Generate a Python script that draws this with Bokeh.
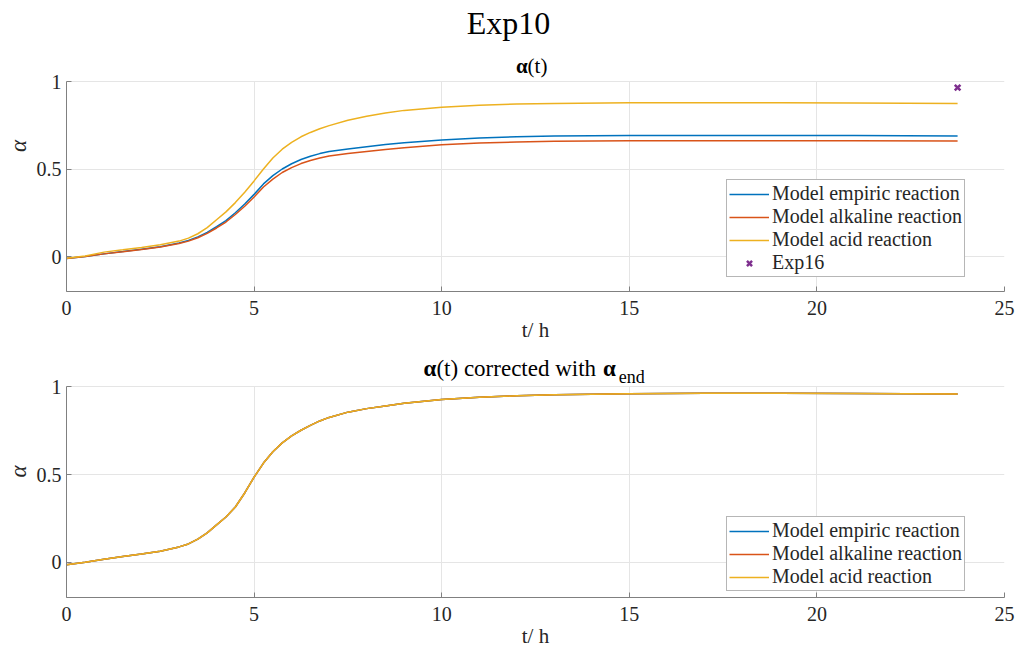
from bokeh.plotting import figure
from bokeh.layouts import column
from bokeh.models import FixedTicker, Range1d, Legend, LegendItem, Label
from bokeh.embed import file_html
from bokeh.resources import INLINE

# Reaction degree alpha over time (hours)
t_h = [0, 0.5, 1, 1.5, 2, 2.5, 3, 3.25, 3.5, 3.75, 4, 4.25, 4.5, 4.75, 5, 5.25,
       5.5, 5.75, 6, 6.25, 6.5, 6.75, 7, 7.5, 8, 8.5, 9, 10, 11, 12, 13, 15,
       17, 19, 21, 23.75]

alpha_empiric = [-0.012, 0.000, 0.015, 0.028, 0.042, 0.056, 0.077, 0.092, 0.112,
                 0.138, 0.170, 0.205, 0.250, 0.300, 0.355, 0.415, 0.462, 0.500,
                 0.530, 0.554, 0.573, 0.588, 0.600, 0.614, 0.627, 0.640, 0.650,
                 0.666, 0.677, 0.684, 0.688, 0.691, 0.692, 0.692, 0.691, 0.689]
alpha_alkaline = [-0.012, 0.000, 0.015, 0.027, 0.040, 0.054, 0.074, 0.088, 0.107,
                  0.132, 0.163, 0.197, 0.240, 0.287, 0.340, 0.397, 0.442, 0.480,
                  0.508, 0.531, 0.549, 0.563, 0.574, 0.588, 0.600, 0.612, 0.622,
                  0.638, 0.648, 0.654, 0.658, 0.661, 0.662, 0.662, 0.661, 0.660]
alpha_acid = [-0.010, 0.003, 0.025, 0.038, 0.052, 0.067, 0.088, 0.105, 0.130,
              0.165, 0.210, 0.255, 0.308, 0.367, 0.432, 0.500, 0.563, 0.613,
              0.652, 0.684, 0.709, 0.730, 0.748, 0.779, 0.802, 0.820, 0.835,
              0.853, 0.864, 0.871, 0.875, 0.878, 0.879, 0.879, 0.877, 0.874]

# Same curves normalised by their end value
corr_empiric = [-0.013, 0.000, 0.018, 0.033, 0.047, 0.063, 0.088, 0.105, 0.132,
                0.168, 0.213, 0.258, 0.315, 0.395, 0.485, 0.565, 0.630, 0.680,
                0.720, 0.752, 0.780, 0.805, 0.825, 0.855, 0.875, 0.890, 0.905,
                0.927, 0.940, 0.948, 0.954, 0.960, 0.962, 0.962, 0.961, 0.958]
corr_alkaline = list(corr_empiric)
corr_acid = list(corr_empiric)

# Measured end value
exp16_t = [23.75]
exp16_alpha = [0.965]

x_ticks = [0, 5, 10, 15, 20, 25]
y_ticks = [0, 0.5, 1]
y_tick_labels = {0: "0", 0.5: "0.5", 1: "1"}

C_EMP = "#0072BD"
C_ALK = "#D95319"
C_ACID = "#EDB120"
C_EXP = "#7E2F8E"

FONT = "Liberation Serif"
TXT = "#262626"
AX = "#808080"


def make_axes(height, y_top, bottom):
    # the frame reaches the top edge so the panel headings can sit inside it
    p = figure(width=1017, height=height, x_range=Range1d(0, 25),
               y_range=Range1d(-0.2, y_top), output_backend="svg",
               toolbar_location=None, min_border_left=66, min_border_right=13,
               min_border_top=0, min_border_bottom=bottom)
    p.outline_line_color = None
    p.background_fill_color = "white"
    p.border_fill_color = "white"
    p.xaxis.ticker = FixedTicker(ticks=x_ticks)
    p.yaxis.ticker = FixedTicker(ticks=y_ticks)
    p.yaxis.major_label_overrides = y_tick_labels
    p.yaxis.bounds = (-0.2, 1)
    for ax in (p.xaxis, p.yaxis):
        ax.axis_line_color = AX
        ax.major_tick_line_color = AX
        ax.major_tick_in = 5
        ax.major_tick_out = 0
        ax.minor_tick_line_color = None
        ax.major_label_text_font = FONT
        ax.major_label_text_font_size = "20px"
        ax.major_label_text_color = TXT
        ax.axis_label_text_font = FONT
        ax.axis_label_text_font_size = "21px"
        ax.axis_label_text_color = TXT
        ax.axis_label_text_font_style = "normal"
    p.xaxis.axis_label = "t/ h"
    p.yaxis.axis_label = "α"
    p.yaxis.axis_label_text_font_style = "italic"
    p.yaxis.axis_label_text_font_size = "23px"
    p.xaxis.major_label_standoff = 9
    p.yaxis.major_label_standoff = 5
    p.xaxis.axis_label_standoff = 0
    p.yaxis.axis_label_standoff = 3
    p.grid.grid_line_color = "#e5e5e5"
    p.grid.grid_line_width = 1
    p.xgrid.cross_bounds = (-0.2, 1)
    return p


def add_text(p, x, y, text, size, align, style="normal"):
    p.add_layout(Label(x=x, y=y, text=text, text_font=FONT,
                       text_font_size=size, text_align=align,
                       text_baseline="middle", text_color="black",
                       text_font_style=style))


def style_legend(p, items, loc):
    leg = Legend(items=items, location=loc)
    leg.label_text_font = FONT
    leg.label_text_font_size = "20px"
    leg.label_text_color = TXT
    leg.glyph_width = 40
    leg.glyph_height = 18
    leg.label_height = 18
    leg.label_standoff = 3
    leg.spacing = 0
    leg.padding = 2
    leg.margin = 0
    leg.border_line_color = "#6e6e6e"
    leg.border_line_width = 1
    leg.background_fill_alpha = 1
    p.add_layout(leg, "center")


# Upper panel: raw model curves and measured end point
p1 = make_axes(345, 1.4629, 54)
r1 = p1.line(t_h, alpha_empiric, line_color=C_EMP, line_width=1.5)
r2 = p1.line(t_h, alpha_alkaline, line_color=C_ALK, line_width=1.5)
r3 = p1.line(t_h, alpha_acid, line_color=C_ACID, line_width=1.5)
r4 = p1.scatter(exp16_t, exp16_alpha, marker="x", size=8, line_color=C_EXP,
                line_width=2.5)
style_legend(p1, [LegendItem(label="Model empiric reaction", renderers=[r1]),
                  LegendItem(label="Model alkaline reaction", renderers=[r2]),
                  LegendItem(label="Model acid reaction", renderers=[r3]),
                  LegendItem(label="Exp16", renderers=[r4])], (660, 14))

add_text(p1, 11.78, 1.337, "Exp10", "32px", "center")
add_text(p1, 12.29, 1.086, "α", "21px", "right", "bold")
add_text(p1, 12.29, 1.086, "(t)", "21px", "left")

# Lower panel: curves corrected with the end value
p2 = make_axes(305, 1.2343, 53)
s1 = p2.line(t_h, corr_empiric, line_color=C_EMP, line_width=1.5)
s2 = p2.line(t_h, corr_alkaline, line_color=C_ALK, line_width=1.5)
s3 = p2.line(t_h, corr_acid, line_color=C_ACID, line_width=1.5)
style_legend(p2, [LegendItem(label="Model empiric reaction", renderers=[s1]),
                  LegendItem(label="Model alkaline reaction", renderers=[s2]),
                  LegendItem(label="Model acid reaction", renderers=[s3])], (660, 6))

add_text(p2, 9.86, 1.103, "α", "23px", "right", "bold")
add_text(p2, 9.86, 1.103, "(t) corrected with", "23px", "left")
add_text(p2, 14.30, 1.103, "α", "23px", "left", "bold")
add_text(p2, 14.72, 1.053, "end", "18px", "left")

layout = column(p1, p2, spacing=0)
open("out.html", "w").write(file_html(layout, INLINE))
